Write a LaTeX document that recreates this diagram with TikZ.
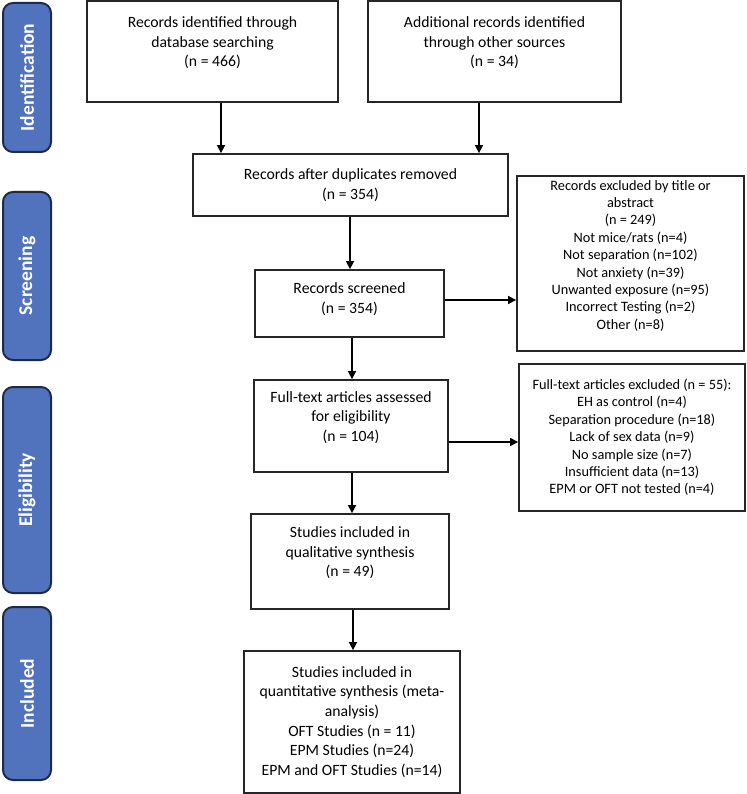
\documentclass[tikz,border=0pt]{standalone}
\usepackage{fontspec}
\setmainfont{Carlito}
\usetikzlibrary{arrows.meta}
\definecolor{tabblue}{HTML}{5173BE}
\definecolor{tabedge}{HTML}{1E2B45}
\definecolor{boxedge}{HTML}{262626}
\tikzset{
  box/.style={draw=boxedge, line width=1.8pt, inner sep=0pt, align=center,
    font=\fontsize{15.7}{19.6}\selectfont},
  smallbox/.style={box, font=\fontsize{14.3}{17.4}\selectfont},
  tab/.style={draw=tabedge, fill=tabblue, line width=2pt, rounded corners=10pt,
    rotate=90, inner sep=0pt, minimum height=48pt, text=white,
    font=\fontsize{19.5}{22}\selectfont\bfseries},
  arr/.style={draw=black, line width=1.6pt, -{Triangle[length=8pt,width=8pt]}}
}
\begin{document}
\begin{tikzpicture}[x=1pt,y=-1pt]
\useasboundingbox (0,0) rectangle (746,794);
% phase tabs
\node[tab, minimum width=149pt] (tid) at (27,77.5) {Identification};
\node[tab, minimum width=168pt] (tsc) at (27,276) {Screening};
\node[tab, minimum width=206pt] (tel) at (27,490) {Eligibility};
\node[tab, minimum width=173pt] (tin) at (27,693.5) {Included};
% boxes
\node[box, minimum width=251pt, minimum height=101pt] (b1) at (212.5,51.5)
  {Records identified through\\database searching\\(n = 466)\\~};
\node[box, minimum width=253pt, minimum height=101pt] (b2) at (494.5,51.5)
  {Additional records identified\\through other sources\\(n = 34)\\~};
\node[box, minimum width=315pt, minimum height=62pt] (b3) at (350.5,185)
  {Records after duplicates removed\\(n = 354)};
\node[box, minimum width=189pt, minimum height=67pt] (b4) at (349.5,303.5)
  {Records screened\\(n = 354)\\[-9pt]~};
\node[smallbox, minimum width=227pt, minimum height=175pt] (ex1) at (630.5,263.5)
  {Records excluded by title or\\abstract\\(n = 249)\\Not mice/rats (n=4)\\Not separation (n=102)\\Not anxiety (n=39)\\Unwanted exposure (n=95)\\Incorrect Testing (n=2)\\Other (n=8)\\~};
\node[box, minimum width=194pt, minimum height=92pt] (b5) at (351,426)
  {Full-text articles assessed\\for eligibility\\(n = 104)\\~};
\node[smallbox, minimum width=226pt, minimum height=147pt] (ex2) at (632,437.5)
  {Full-text articles excluded (n = 55):\\EH as control (n=4)\\Separation procedure (n=18)\\Lack of sex data (n=9)\\No sample size (n=7)\\Insufficient data (n=13)\\EPM or OFT not tested (n=4)};
\node[box, minimum width=198pt, minimum height=95pt] (b6) at (350,561.5)
  {Studies included in\\qualitative synthesis\\(n = 49)\\~};
\node[box, minimum width=216pt, minimum height=142pt] (b7) at (352,722)
  {Studies included in\\quantitative synthesis (meta-\\analysis)\\OFT Studies (n = 11)\\EPM Studies (n=24)\\EPM and OFT Studies (n=14)};
% connectors
\draw[arr] ([xshift=8.5pt]b1.south) -- ([xshift=8.5pt]b1.south |- b3.north);
\draw[arr] ([xshift=-15.5pt]b2.south) -- ([xshift=-15.5pt]b2.south |- b3.north);
\draw[arr] ([xshift=-0.5pt]b3.south) -- ([xshift=-0.5pt]b3.south |- b4.north);
\draw[arr] ([yshift=3.5pt]b4.east) -- ([yshift=3.5pt]b4.east -| ex1.west);
\draw[arr] ([xshift=2.5pt]b4.south) -- ([xshift=2.5pt]b4.south |- b5.north);
\draw[arr] ([yshift=-16pt]b5.east) -- ([yshift=-16pt]b5.east -| ex2.west);
\draw[arr] ([xshift=1pt]b5.south) -- ([xshift=1pt]b5.south |- b6.north);
\draw[arr] ([xshift=3pt]b6.south) -- ([xshift=3pt]b6.south |- b7.north);
\end{tikzpicture}
\end{document}
